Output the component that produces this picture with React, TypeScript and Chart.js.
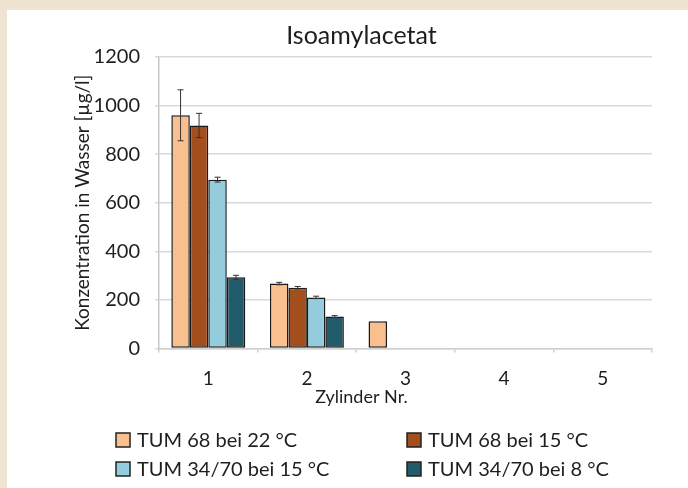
import React, { useEffect, useRef } from "react";
import { Chart, registerables } from "chart.js";

Chart.register(...registerables);

const categories = ["1", "2", "3", "4", "5"];
const seriesNames = [
  "TUM 68 bei 22 °C",
  "TUM 68 bei 15 °C",
  "TUM 34/70 bei 15 °C",
  "TUM 34/70 bei 8 °C",
];
const tum68at22 = [960, 267, 112, null, null];
const tum68at15 = [918, 250, null, null, null];
const tum3470at15 = [695, 210, null, null, null];
const tum3470at8 = [293, 131, null, null, null];
const err68at22 = [105, 5, 0, 0, 0];
const err68at15 = [50, 5, 0, 0, 0];
const err3470at15 = [10, 5, 0, 0, 0];
const err3470at8 = [8, 4, 0, 0, 0];
const yMin = 0;
const yMax = 1200;
const yStep = 200;

const colors = ["#F9BF8C", "#A24E1D", "#93CDDD", "#225B69"];
const FONT = "Lato, 'Open Sans', sans-serif";
const TEXT = "#1e1e1e";

const errorBarPlugin = {
  id: "errorBars",
  afterDatasetsDraw(chart: any) {
    const { ctx } = chart;
    const yScale = chart.scales.y;
    const errs = [err68at22, err68at15, err3470at15, err3470at8];
    ctx.save();
    ctx.strokeStyle = "#333333";
    ctx.lineWidth = 1;
    chart.data.datasets.forEach((ds: any, di: number) => {
      const meta = chart.getDatasetMeta(di);
      meta.data.forEach((bar: any, i: number) => {
        const v = ds.data[i];
        const e = errs[di][i];
        if (v == null || !e) return;
        const x = bar.x;
        const yTop = yScale.getPixelForValue(v + e);
        const yBot = yScale.getPixelForValue(v - e);
        ctx.beginPath();
        ctx.moveTo(x, yTop);
        ctx.lineTo(x, yBot);
        ctx.moveTo(x - 3, yTop);
        ctx.lineTo(x + 3, yTop);
        ctx.moveTo(x - 3, yBot);
        ctx.lineTo(x + 3, yBot);
        ctx.stroke();
      });
    });
    ctx.restore();
  },
};

const gridLegendPlugin = {
  id: "gridLegend",
  afterDraw(chart: any) {
    const { ctx } = chart;
    const colX = [109, 400];
    const rowY = [430, 459];
    ctx.save();
    ctx.font = `20px ${FONT}`;
    ctx.textBaseline = "middle";
    ctx.textAlign = "left";
    seriesNames.forEach((name, i) => {
      const x = colX[i % 2];
      const y = rowY[Math.floor(i / 2)];
      ctx.fillStyle = colors[i];
      ctx.fillRect(x, y - 7, 14, 14);
      ctx.strokeStyle = "#222222";
      ctx.lineWidth = 1.5;
      ctx.strokeRect(x, y - 7, 14, 14);
      ctx.fillStyle = TEXT;
      ctx.fillText(name, x + 21, y + 1);
    });
    ctx.restore();
  },
};

export default function App() {
  const ref = useRef<HTMLCanvasElement>(null);

  useEffect(() => {
    if (!ref.current) return;
    const datasets = [tum68at22, tum68at15, tum3470at15, tum3470at8].map(
      (d, i) => ({
        label: seriesNames[i],
        data: d,
        backgroundColor: colors[i],
        borderColor: "#1a1a1a",
        borderWidth: 1.5,
        borderSkipped: false,
        categoryPercentage: 0.75,
        barPercentage: 1,
      })
    );
    const chart = new Chart(ref.current, {
      type: "bar",
      data: { labels: categories, datasets: datasets as any },
      plugins: [errorBarPlugin, gridLegendPlugin],
      options: {
        animation: false,
        responsive: false,
        maintainAspectRatio: false,
        layout: { padding: { left: 64, right: 36, top: 4, bottom: 80 } },
        plugins: {
          legend: { display: false },
          tooltip: { enabled: false },
          title: {
            display: true,
            text: "Isoamylacetat",
            color: TEXT,
            font: { family: FONT, size: 25, weight: "normal" },
            padding: { top: 7, bottom: 6 },
          },
          subtitle: {
            display: true,
            position: "bottom",
            text: "Zylinder Nr.",
            color: TEXT,
            font: { family: FONT, size: 18, weight: "normal" },
            padding: { top: 0, bottom: 0 },
          },
        },
        scales: {
          x: {
            grid: {
              display: true,
              drawOnChartArea: false,
              drawTicks: true,
              tickLength: 4,
              color: "#d0d0d0",
              lineWidth: 1.5,
            },
            border: { display: true, color: "#d0d0d0", width: 1.5 },
            ticks: {
              color: TEXT,
              font: { family: FONT, size: 19 },
              padding: 15,
            },
            afterFit(scale: any) {
              scale.height = 38;
            },
          },
          y: {
            min: yMin,
            max: yMax,
            ticks: {
              stepSize: yStep,
              color: TEXT,
              font: { family: FONT, size: 20 },
              padding: 15,
              callback: (v: any) => String(v),
            },
            grid: {
              color: "#d9d9d9",
              lineWidth: 1.5,
              tickLength: 4,
            },
            border: { display: true, color: "#c8c8c8", width: 1.5 },
            title: {
              display: true,
              text: "Konzentration in Wasser [µg/l]",
              color: TEXT,
              font: { family: FONT, size: 19 },
              padding: { top: 0, bottom: 0 },
            },
            afterFit(scale: any) {
              scale.width = 88;
            },
          },
        },
      } as any,
    });
    return () => chart.destroy();
  }, []);

  return (
    <div
      style={{
        position: "fixed",
        left: 0,
        top: 0,
        width: 688,
        height: 488,
        background: "#EFE4D1",
      }}
    >
      <div
        style={{
          position: "absolute",
          left: 7,
          top: 10,
          width: 681,
          height: 478,
          background: "#ffffff",
        }}
      >
        <canvas ref={ref} width={681} height={478} style={{ display: "block" }} />
      </div>
    </div>
  );
}
